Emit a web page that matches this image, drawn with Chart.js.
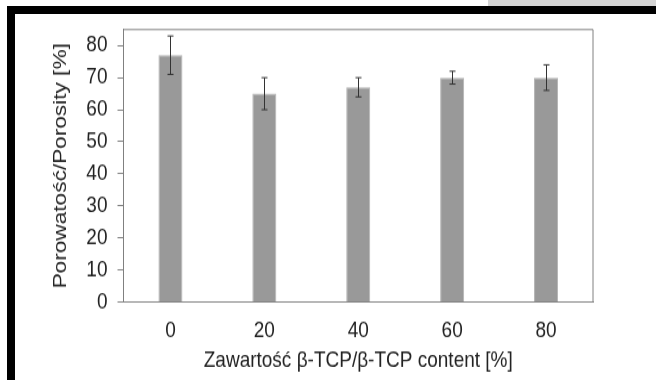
<!DOCTYPE html>
<html>
<head>
<meta charset="utf-8">
<script src="https://cdn.jsdelivr.net/npm/chart.js@4"></script>
<style>
  body { margin: 0; background: #fff; }
  #wrap { position: relative; width: 656px; height: 380px; overflow: hidden; }
  #grayTab { position: absolute; left: 488px; top: 0; width: 168px; height: 6px; background: #d4d4d4; }
  #frame { position: absolute; left: 7px; top: 6px; width: 700px; height: 420px;
           border-top: 8px solid #000; border-left: 8px solid #000; }
  /* the source picture is stretched vertically, so stretch the canvas the same way */
  #stretch { position: absolute; left: 0; top: 0; transform-origin: 0 0; transform: scale(1, 1.1912); }
</style>
</head>
<body>
<div id="wrap">
  <div id="grayTab"></div>
  <div id="frame"></div>
  <div id="stretch"><canvas id="myChart" width="656" height="319"></canvas></div>
</div>
<script>
const categories = ["0", "20", "40", "60", "80"];
const porosity = [77, 65, 67, 70, 70];
const errLow = [71, 60, 64, 68, 66];
const errHigh = [83, 70, 70, 72, 74];
const yTicks = [0, 10, 20, 30, 40, 50, 60, 70, 80];

const FONT = "'Liberation Sans', Arial, sans-serif";

// error bars + box round the plot
const extras = {
    id: 'extras',
    afterDatasetsDraw(chart) {
        const ctx = chart.ctx;
        const x = chart.scales.x;
        const y = chart.scales.y;
        const a = chart.chartArea;
        ctx.save();
        ctx.strokeStyle = '#808080';
        ctx.lineWidth = 1;
        ctx.beginPath();
        ctx.moveTo(a.left, a.bottom);
        ctx.lineTo(a.left, a.top);
        ctx.lineTo(a.right, a.top);
        ctx.lineTo(a.right, a.bottom);
        ctx.stroke();

        ctx.strokeStyle = '#333';
        for (let i = 0; i < categories.length; i++) {
            const cx = Math.round(x.getPixelForValue(i)) + 0.5;
            const y1 = y.getPixelForValue(errLow[i]);
            const y2 = y.getPixelForValue(errHigh[i]);
            ctx.beginPath();
            ctx.moveTo(cx, y1);
            ctx.lineTo(cx, y2);
            ctx.moveTo(cx - 3, y1);
            ctx.lineTo(cx + 3, y1);
            ctx.moveTo(cx - 3, y2);
            ctx.lineTo(cx + 3, y2);
            ctx.stroke();
        }
        ctx.restore();
    }
};

const chart = new Chart(document.getElementById('myChart'), {
    type: 'bar',
    data: {
        labels: categories,
        datasets: [{
            data: porosity,
            backgroundColor: '#999999',
            borderColor: '#b4b4b4',
            borderWidth: 1,
            barPercentage: 1,
            categoryPercentage: 0.256
        }]
    },
    options: {
        responsive: false,
        animation: false,
        devicePixelRatio: 1,
        layout: { padding: { left: 0, top: 24.8, right: 63, bottom: 0 } },
        plugins: { legend: { display: false }, tooltip: { enabled: false } },
        scales: {
            x: {
                grid: { display: false, drawTicks: false },
                border: { display: true, color: '#808080' },
                ticks: { color: '#222', padding: 13, font: { family: FONT, size: 19 } },
                title: {
                    display: true,
                    text: 'Zawartość β-TCP/β-TCP content [%]',
                    color: '#222',
                    font: { family: FONT, size: 19 },
                    padding: { top: 5, bottom: 5 }
                },
                afterFit: s => { s.height = 65.5; }
            },
            y: {
                min: 0,
                max: 85,
                grid: { drawOnChartArea: false, drawTicks: true, tickLength: 6, color: '#808080' },
                border: { display: true, color: '#808080' },
                ticks: { color: '#222', padding: 10, font: { family: FONT, size: 19 } },
                afterBuildTicks: s => { s.ticks = yTicks.map(v => ({ value: v })); },
                title: {
                    display: true,
                    text: 'Porowatość/Porosity [%]',
                    color: '#222',
                    font: { family: FONT, size: 19 },
                    padding: { top: 49.5, bottom: 49.5 }
                },
                afterFit: s => { s.width = 123.5; }
            }
        }
    },
    plugins: [extras]
});
</script>
</body>
</html>
